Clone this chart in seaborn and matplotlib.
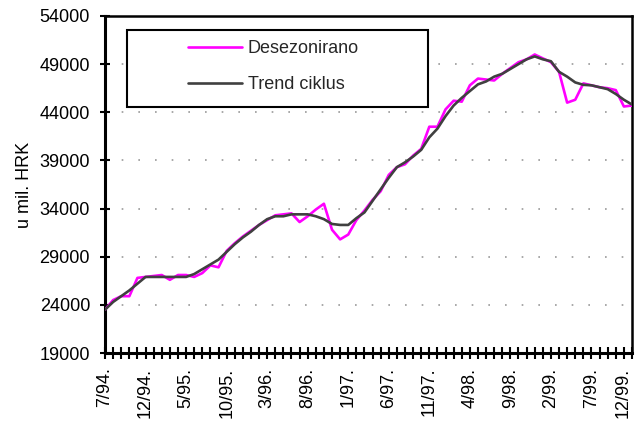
import matplotlib
matplotlib.use("Agg")
import matplotlib.pyplot as plt
import matplotlib.patches as mpatches
import seaborn as sns
import pandas as pd

tick_labels = ['7/94.', '12/94.', '5/95.', '10/95.', '3/96.', '8/96.', '1/97.',
               '6/97.', '11/97.', '4/98.', '9/98.', '2/99.', '7/99.', '12/99.']

desezonirano = [23500, 24500, 24900, 24900, 26800, 26900, 27000, 27100, 26600, 27100,
                27100, 26900, 27300, 28100, 27900, 29600, 30400, 31100, 31700, 32300,
                32800, 33300, 33400, 33500, 32600, 33200, 33900, 34500, 31800, 30800,
                31300, 32800, 33800, 34900, 35800, 37500, 38300, 38600, 39500, 40200,
                42500, 42500, 44300, 45200, 45100, 46800, 47500, 47400, 47300, 48000,
                48600, 49200, 49500, 50000, 49600, 49200, 48200, 45000, 45300, 47000,
                46800, 46600, 46500, 46300, 44600, 44700]

trend_ciklus = [23500, 24300, 24900, 25500, 26200, 26900, 26900, 26900, 26900, 26900,
                26900, 27200, 27700, 28200, 28700, 29500, 30300, 31000, 31600, 32300,
                32900, 33200, 33200, 33400, 33400, 33400, 33200, 32900, 32400, 32300,
                32300, 33000, 33600, 34800, 36000, 37200, 38300, 38800, 39400, 40100,
                41400, 42300, 43600, 44700, 45500, 46200, 46900, 47200, 47700, 48000,
                48500, 49000, 49500, 49800, 49500, 49300, 48200, 47700, 47100, 46850,
                46800, 46600, 46400, 45900, 45300, 44800]

y_ticks = [19000, 24000, 29000, 34000, 39000, 44000, 49000, 54000]

sns.set_theme(style="white")
plt.rcParams['font.family'] = ['Liberation Sans', 'DejaVu Sans']

df = pd.DataFrame({'t': range(len(desezonirano)),
                   'Desezonirano': desezonirano,
                   'Trend ciklus': trend_ciklus})
long = df.melt(id_vars='t', var_name='serija', value_name='vrijednost')

fig, ax = plt.subplots(figsize=(6.38, 4.25), dpi=100)
fig.subplots_adjust(left=0.1646, right=0.9906, bottom=0.1694, top=0.9624)

sns.lineplot(data=long, x='t', y='vrijednost', hue='serija',
             hue_order=['Desezonirano', 'Trend ciklus'],
             palette={'Desezonirano': '#FF00FF', 'Trend ciklus': '#404040'},
             linewidth=1.9, ax=ax, zorder=3)

leg = ax.get_legend()
handles = leg.legend_handles
labels = [t.get_text() for t in leg.texts]
leg.remove()
for h in handles:
    h.set_linewidth(1.9)

ax.set_xlim(0, len(desezonirano) - 1)
ax.set_ylim(19000, 54000)
ax.set_yticks(y_ticks)
ax.set_yticklabels([str(v) for v in y_ticks], fontsize=13)
ax.set_xticks(range(0, len(desezonirano), 5))
xt = ax.set_xticklabels(tick_labels, rotation=90, fontsize=13)
xt[-1].set_horizontalalignment('right')
ax.set_xticks(range(len(desezonirano)), minor=True)

ax.tick_params(axis='x', which='both', direction='inout', length=9, width=1.5,
               color='black', bottom=True, pad=6, labelcolor='black')
ax.tick_params(axis='y', which='major', direction='inout', length=7.5, width=1.5,
               color='black', left=True, pad=7, labelcolor='black')

ax.yaxis.grid(True, color='#999999', linestyle=(0, (1, 9)), linewidth=1.2)
ax.xaxis.grid(False)

for side in ['top', 'right']:
    ax.spines[side].set_color('black')
    ax.spines[side].set_linewidth(1.8)
for side in ['left', 'bottom']:
    ax.spines[side].set_color('black')
    ax.spines[side].set_linewidth(2.2)

ax.set_xlabel('')
ax.set_ylabel('u mil. HRK', fontsize=13, color='black')
ax.yaxis.set_label_coords(-0.137, 0.5)

box = mpatches.Rectangle((0.0417, 0.730), 0.571, 0.228, transform=ax.transAxes,
                         facecolor='white', edgecolor='black', linewidth=1.5, zorder=5)
ax.add_patch(box)

ax.legend(handles, labels, loc='center left', bbox_to_anchor=(0.1575, 0.849),
          frameon=False, fontsize=13, handlelength=3.0, handletextpad=0.3,
          labelspacing=1.05, borderpad=0, borderaxespad=0).set_zorder(6)

fig.savefig('out.png', dpi=100)
